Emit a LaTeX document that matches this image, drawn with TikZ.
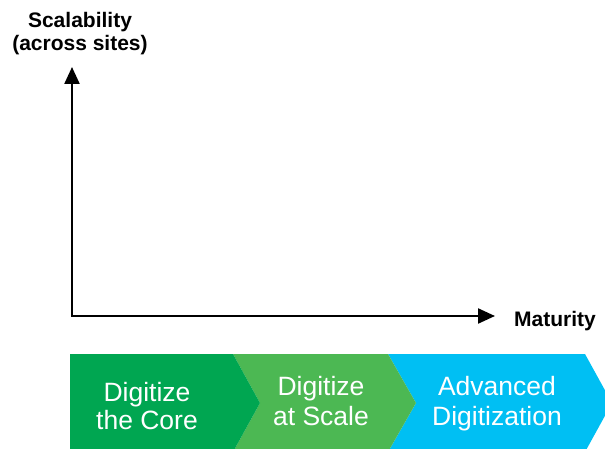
\documentclass[tikz,border=0pt]{standalone}
\usepackage{fontspec}
\setmainfont{Liberation Sans}
\usetikzlibrary{arrows.meta}
\definecolor{coregreen}{HTML}{00A651}
\definecolor{scalegreen}{HTML}{4CB853}
\definecolor{advblue}{HTML}{00BFF3}
\tikzset{
  axisline/.style={line width=2.3pt, line join=miter,
    {Triangle[length=17pt,width=15pt]}-{Triangle[length=17pt,width=15pt]}},
  axislabel/.style={font=\fontsize{21}{23}\selectfont\bfseries, align=center, inner sep=0pt},
  stagetext/.style={font=\fontsize{26.5}{29}\selectfont, text=white, align=center, inner sep=0pt},
}
\begin{document}
\begin{tikzpicture}[x=1pt,y=-1pt]
\useasboundingbox (0,0) rectangle (605,449);

% stage chevrons along the bottom
\begin{scope}
\clip (0,0) rectangle (605,449);
\fill[advblue] (388,354) -- (585,354) -- (612,403) -- (585,452) -- (388,452) -- (416,403) -- cycle;
\fill[scalegreen] (233,354) -- (388,354) -- (416,403) -- (388,452) -- (233,452) -- (260,403) -- cycle;
\fill[coregreen] (70,354) -- (233,354) -- (260,403) -- (233,452) -- (70,452) -- cycle;
\end{scope}

\node[stagetext, anchor=base] (core1) at (147,401) {Digitize};
\node[stagetext, anchor=base] (core2) at (147,429) {the Core};
\node[stagetext, anchor=base] (scale1) at (321,395) {Digitize};
\node[stagetext, anchor=base] (scale2) at (321,425) {at Scale};
\node[stagetext, anchor=base] (adv1) at (497,395) {Advanced};
\node[stagetext, anchor=base] (adv2) at (497,425) {Digitization};

% axes
\coordinate (ytip) at (72,67);
\coordinate (origin) at (72,316);
\coordinate (xtip) at (495,316);
\draw[axisline] (ytip) -- (origin) -- (xtip);

\node[axislabel, anchor=base] (ylab1) at (80,28) {Scalability};
\node[axislabel, anchor=base] (ylab2) at (80,51) {(across sites)};
\node[axislabel, anchor=base west] (xlab) at (514,326) {Maturity};
\end{tikzpicture}
\end{document}
